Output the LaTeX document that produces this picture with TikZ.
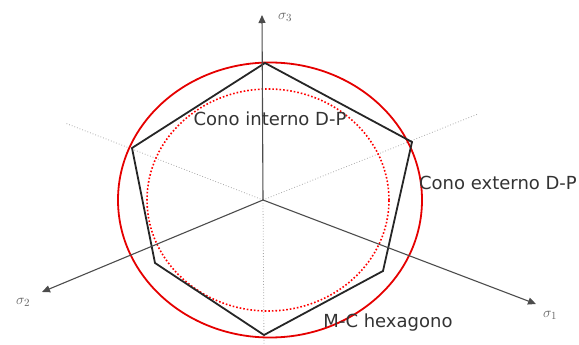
\documentclass[tikz,border=0pt]{standalone}
\usepackage{fontspec}
\setmainfont{DejaVu Sans}
\usepackage{tikz}
\usetikzlibrary{arrows.meta,positioning,calc}

\begin{document}
\begin{tikzpicture}[x=1pt, y=-1pt, >={Triangle[length=8pt,width=7pt]},
  every node/.style={font=\fontsize{18}{20}\selectfont, text=black!80, inner sep=0pt},
  axis/.style={->, draw=black!70, line width=1.1pt},
  guide/.style={draw=black!35, dotted, line width=0.8pt},
  hexa/.style={draw=black!85, line width=1.8pt, line join=miter},
  outer/.style={draw=red!90!black, line width=1.8pt},
  inner/.style={draw=red, dotted, line width=1.6pt},
  sig/.style={font=\fontsize{15}{17}\selectfont, text=black!60}]
  \useasboundingbox (0,0) rectangle (579,345);

  % axes and their dotted continuations
  \coordinate (O) at (263,200);
  \coordinate (S1) at (536,304);
  \coordinate (S2) at (42,292);
  \coordinate (S3) at (262,15);
  \coordinate (G1) at (65,123);
  \coordinate (G2) at (478,114);
  \coordinate (G3) at (264,345);
  \draw[guide] (O) -- (G1);
  \draw[guide] (O) -- (G2);
  \draw[guide] (O) -- (G3);

  % Drucker-Prager cones
  \draw[outer] (270,200) ellipse [x radius=152pt, y radius=137.5pt];
  \draw[inner] (268,200) ellipse [x radius=121pt, y radius=111pt];

  % Mohr-Coulomb hexagon
  \coordinate (H1) at (265,63);
  \coordinate (H2) at (412,142);
  \coordinate (H3) at (383,271);
  \coordinate (H4) at (264,335);
  \coordinate (H5) at (155,263);
  \coordinate (H6) at (132,148);
  \draw[hexa] (H1) -- (H2) -- (H3) -- (H4) -- (H5) -- (H6) -- cycle;

  \draw[axis] (O) -- (S1);
  \draw[axis] (O) -- (S2);
  \draw[axis] (O) -- (S3);

  \node[sig] (l1) at (550,315) {$\sigma_1$};
  \node[sig] (l2) at (23,302) {$\sigma_2$};
  \node[sig] (l3) at (285,17) {$\sigma_3$};

  \node (interno) at (270,119) {Cono interno D-P};
  \node (externo) at (498,183) {Cono externo D-P};
  \node (hexagono) at (388,323) {M-C hexagono};
\end{tikzpicture}
\end{document}
